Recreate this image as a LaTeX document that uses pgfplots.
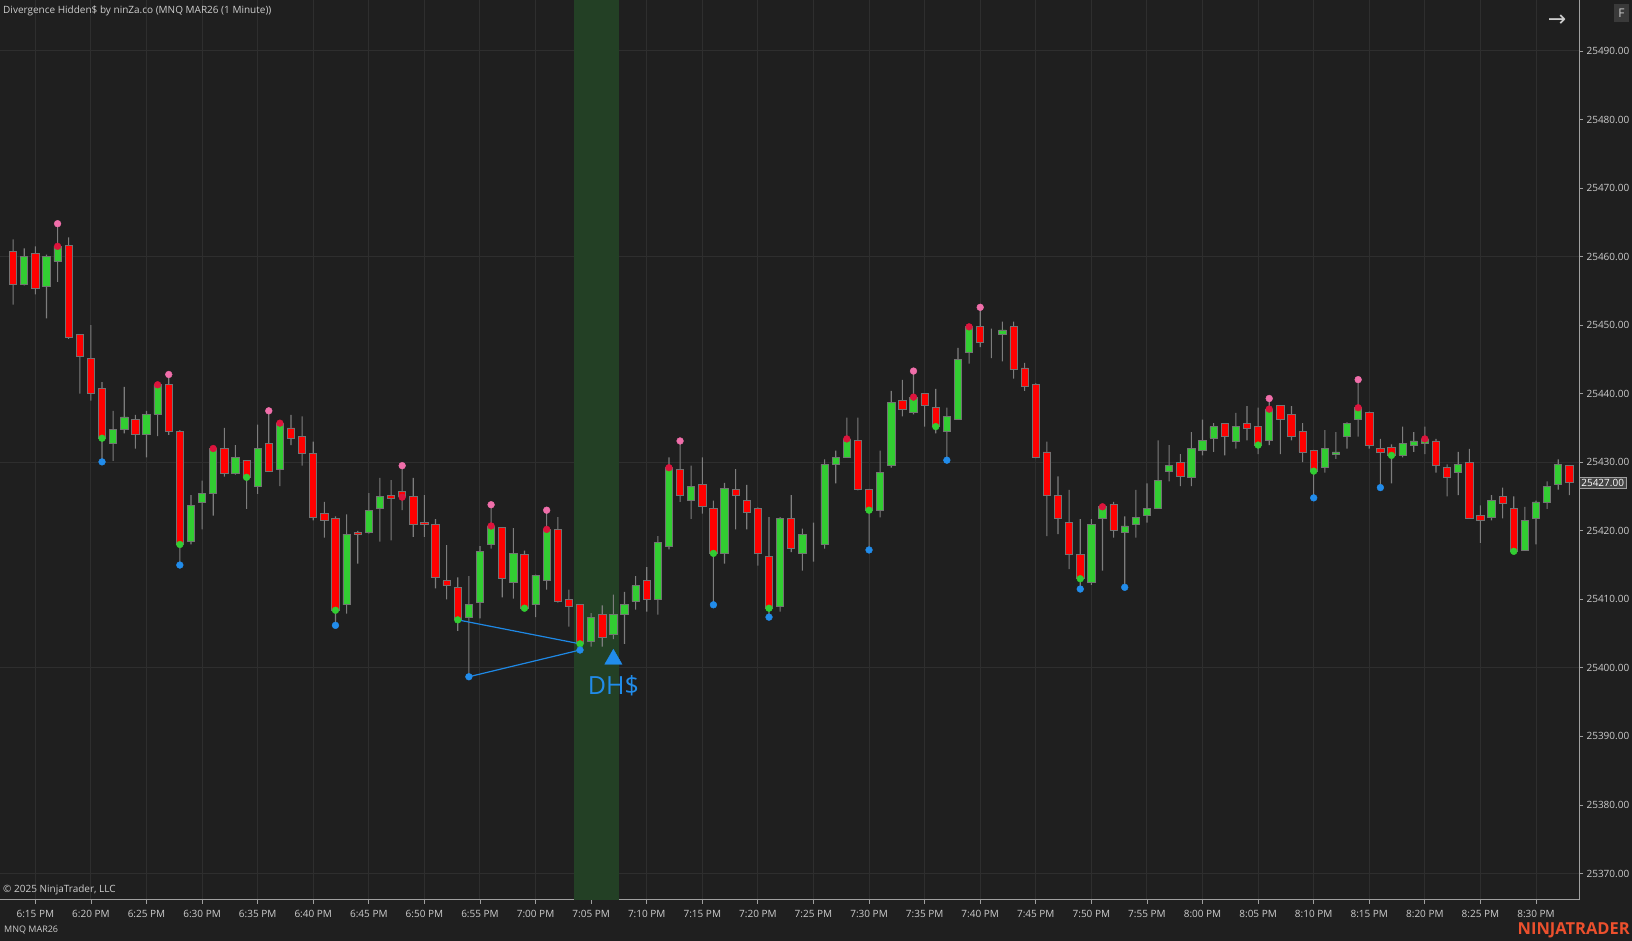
\documentclass[border=0pt]{standalone}
\usepackage{pgfplots}
\pgfplotsset{compat=1.18}
\usepackage{pgfplotstable}
\usepackage{fontspec}
\setmainfont{Open Sans}
\newfontfamily\symfont{DejaVu Sans}

\definecolor{bg}{RGB}{31,31,31}
\definecolor{gridc}{RGB}{46,46,46}
\definecolor{axisc}{RGB}{160,160,160}
\definecolor{txt}{RGB}{205,205,205}
\definecolor{upc}{RGB}{50,205,50}
\definecolor{dnc}{RGB}{255,0,0}
\definecolor{edge}{RGB}{115,115,115}
\definecolor{wick}{RGB}{125,125,125}
\definecolor{band}{RGB}{35,64,37}
\definecolor{pinkdot}{RGB}{240,110,170}
\definecolor{reddot}{RGB}{220,20,60}
\definecolor{greendot}{RGB}{50,205,50}
\definecolor{bluedot}{RGB}{33,140,235}
\definecolor{divline}{RGB}{30,136,229}
\definecolor{ntorange}{RGB}{236,80,45}

% 1 minute bars, t = minutes after 6:00 PM
\pgfplotstableread{
t o h l c
13 25460.8 25462.5 25453.0 25456.0
14 25456.0 25461.2 25455.8 25460.0
15 25460.5 25461.5 25454.5 25455.3
16 25455.6 25460.3 25451.0 25460.0
17 25459.3 25464.8 25456.3 25461.5
18 25461.6 25462.8 25448.0 25448.2
19 25448.6 25448.6 25440.0 25445.5
20 25445.1 25450.0 25439.0 25440.0
21 25440.8 25441.7 25430.0 25433.5
22 25432.8 25437.5 25430.2 25434.8
23 25434.8 25441.0 25434.2 25436.6
24 25436.3 25436.9 25432.0 25434.0
25 25434.0 25437.5 25430.7 25437.0
26 25437.0 25441.5 25433.8 25441.3
27 25441.3 25442.8 25434.0 25434.5
28 25434.5 25434.7 25415.0 25418.0
29 25418.4 25425.2 25418.0 25423.7
30 25424.2 25427.3 25420.2 25425.5
31 25425.5 25432.2 25422.2 25432.0
32 25432.0 25435.0 25427.9 25428.3
33 25428.3 25432.5 25428.2 25430.7
34 25430.3 25430.3 25423.2 25427.8
35 25426.5 25435.5 25425.4 25432.0
36 25432.8 25437.5 25428.6 25428.7
37 25429.0 25436.0 25426.5 25435.7
38 25435.0 25436.9 25432.5 25433.5
39 25433.8 25436.7 25429.5 25431.3
40 25431.3 25433.0 25421.5 25422.0
41 25422.5 25424.2 25419.0 25421.5
42 25421.8 25422.1 25406.2 25408.4
43 25409.2 25422.4 25407.9 25419.5
44 25419.75 25420.0 25415.2 25419.5
45 25419.7 25425.5 25419.6 25423.0
46 25423.2 25427.7 25418.4 25425.0
47 25425.2 25427.4 25418.6 25424.7
48 25425.7 25429.5 25423.0 25425.0
49 25425.0 25427.7 25419.1 25420.9
50 25421.2 25425.2 25419.1 25420.9
51 25420.9 25421.7 25411.6 25413.2
52 25412.7 25417.9 25410.0 25412.0
53 25411.7 25413.2 25405.4 25407.0
54 25407.4 25413.4 25398.7 25409.2
55 25409.5 25417.75 25407.2 25417.0
56 25418.0 25423.8 25417.4 25420.7
57 25420.5 25420.5 25410.3 25413.0
58 25412.4 25420.4 25410.1 25416.7
59 25416.5 25417.1 25408.5 25408.7
60 25409.2 25413.6 25407.4 25413.5
61 25412.7 25423.0 25411.4 25420.2
62 25420.2 25422.0 25409.5 25409.7
63 25410.0 25411.4 25406.0 25408.9
64 25409.2 25409.3 25402.6 25403.5
65 25403.9 25408.0 25403.1 25407.4
66 25407.75 25409.1 25403.1 25404.4
67 25404.9 25410.7 25404.2 25407.75
68 25407.75 25411.1 25403.5 25409.2
69 25409.7 25413.4 25408.5 25412.0
70 25412.7 25414.7 25408.2 25410.0
71 25410.0 25419.2 25407.75 25418.3
72 25417.75 25430.7 25417.3 25429.2
73 25429.0 25433.1 25424.2 25425.2
74 25424.4 25429.5 25421.75 25426.5
75 25426.7 25430.7 25422.5 25423.5
76 25423.3 25424.4 25409.2 25416.7
77 25416.7 25427.0 25415.2 25426.2
78 25426.0 25429.0 25420.2 25425.2
79 25424.4 25426.7 25420.2 25422.7
80 25423.3 25423.4 25414.9 25416.7
81 25416.2 25422.0 25407.4 25408.7
82 25408.9 25422.0 25408.2 25421.8
83 25421.8 25425.2 25416.9 25417.4
84 25416.7 25420.3 25414.2 25419.5
85 25418.7 25421.2 25415.5 25418.7
86 25418.0 25430.4 25417.4 25429.7
87 25429.7 25431.7 25426.9 25430.7
88 25430.7 25436.5 25430.7 25433.4
89 25433.2 25436.5 25425.9 25426.0
90 25426.0 25426.1 25417.2 25423.0
91 25423.0 25431.7 25421.95 25428.5
92 25429.5 25440.4 25429.2 25438.7
93 25439.0 25442.0 25436.7 25437.75
94 25437.3 25443.3 25437.0 25439.5
95 25440.0 25440.0 25435.2 25438.3
96 25438.0 25440.7 25434.2 25435.2
97 25434.5 25437.95 25430.3 25436.7
98 25436.2 25446.7 25436.2 25445.0
99 25446.05 25450.0 25444.4 25449.75
100 25449.75 25452.6 25446.8 25447.5
101 25448.0 25449.5 25445.2 25448.0
102 25448.7 25450.5 25444.7 25449.3
103 25449.75 25450.5 25442.2 25443.5
104 25443.75 25444.5 25440.4 25441.0
105 25441.3 25441.5 25430.6 25430.7
106 25431.5 25433.0 25419.2 25425.2
107 25425.2 25427.95 25419.5 25421.8
108 25421.2 25425.95 25414.4 25416.5
109 25416.5 25421.7 25411.5 25413.0
110 25412.4 25421.7 25412.1 25420.9
111 25421.8 25423.7 25414.2 25423.5
112 25423.9 25424.2 25419.0 25420.05
113 25419.75 25422.1 25411.75 25420.7
114 25420.9 25425.95 25419.0 25421.95
115 25422.2 25426.9 25421.2 25423.3
116 25423.3 25433.2 25423.2 25427.4
117 25428.7 25432.5 25427.2 25429.5
118 25430.0 25431.2 25426.5 25427.95
119 25427.8 25434.4 25426.5 25432.05
120 25431.7 25436.2 25431.0 25433.2
121 25433.5 25435.7 25431.5 25435.2
122 25435.6 25435.6 25431.0 25433.8
123 25433.0 25437.2 25432.0 25435.2
124 25435.6 25438.2 25433.2 25435.0
125 25435.2 25437.95 25431.2 25432.5
126 25433.2 25439.3 25432.5 25437.75
127 25438.3 25438.3 25431.2 25436.2
128 25437.0 25438.2 25433.2 25433.75
129 25434.5 25435.7 25430.0 25431.5
130 25431.75 25431.8 25424.8 25428.7
131 25429.2 25434.7 25428.5 25432.0
132 25431.2 25434.4 25430.5 25431.5
133 25433.75 25435.8 25432.0 25435.7
134 25436.2 25442.05 25433.75 25437.95
135 25437.3 25437.4 25432.0 25432.5
136 25432.0 25433.4 25426.3 25431.5
137 25432.2 25432.6 25426.9 25431.0
138 25431.0 25435.2 25430.7 25432.7
139 25432.5 25434.4 25431.5 25433.1
140 25432.7 25435.2 25431.2 25433.4
141 25433.1 25433.4 25428.5 25429.6
142 25429.3 25429.7 25425.0 25427.8
143 25428.5 25431.5 25425.2 25429.7
144 25430.0 25431.95 25421.8 25421.8
145 25422.25 25423.7 25418.25 25421.5
146 25421.95 25425.2 25421.5 25424.4
147 25425.0 25426.3 25421.8 25424.0
148 25423.3 25425.0 25416.9 25417.0
149 25417.2 25423.5 25417.1 25421.5
150 25421.8 25424.4 25418.0 25424.2
151 25424.2 25427.2 25423.2 25426.5
152 25426.7 25430.4 25426.0 25429.7
153 25429.5 25429.5 25425.2 25427.0
}\candles

\pgfplotsset{
  chartbox/.style={
    scale only axis, width=1579pt, height=900pt,
    xmin=11.82, xmax=153.87,
    at={(0pt,41pt)}, anchor=south west,
  },
  % bars are stacked on a base, so these axes count prices above 25360
  offsetaxis/.style={chartbox, hide axis, ymin=6.13, ymax=137.44, ybar stacked},
}

\begin{document}
\begin{tikzpicture}
\fill[bg] (0,0) rectangle (1632pt,941pt);

% frame, grid, ticks, highlight band
\begin{axis}[
  chartbox,
  ymin=25366.13, ymax=25497.44,
  clip mode=individual,
  axis x line*=bottom, axis y line*=right,
  axis line style={draw=axisc, line width=1pt},
  tick align=outside, major tick length=4pt,
  tick style={draw=axisc, line width=0.8pt},
  xtick={15,20,...,150},
  xticklabels={6:15 PM,6:20 PM,6:25 PM,6:30 PM,6:35 PM,6:40 PM,6:45 PM,6:50 PM,6:55 PM,7:00 PM,7:05 PM,7:10 PM,7:15 PM,7:20 PM,7:25 PM,7:30 PM,7:35 PM,7:40 PM,7:45 PM,7:50 PM,7:55 PM,8:00 PM,8:05 PM,8:10 PM,8:15 PM,8:20 PM,8:25 PM,8:30 PM},
  ytick={25370,25380,...,25490},
  yticklabels={25370.00,25380.00,25390.00,25400.00,25410.00,25420.00,25430.00,25440.00,25450.00,25460.00,25470.00,25480.00,25490.00},
  extra y ticks={25370,25400,25430,25460,25490},
  extra y tick labels={},
  extra y tick style={grid=major},
  xmajorgrids,
  major grid style={draw=gridc, line width=1pt},
  tick label style={font=\fontsize{10}{12}\selectfont, text=txt},
  xticklabel style={anchor=center, yshift=-10pt},
  yticklabel style={anchor=west},
]
\addplot[fill=band, draw=none] coordinates {(63.5,25360) (67.5,25360) (67.5,25500) (63.5,25500)} -- cycle;
\node[anchor=west, fill={rgb,255:red,68;green,68;blue,68}, draw=axisc, line width=0.6pt,
      text=white, font=\fontsize{10}{12}\selectfont, inner xsep=2pt, inner ysep=1.5pt]
  at ({rel axis cs:1,0}|-{axis cs:150,25427}) {25427.00};
\end{axis}

% wicks
\begin{axis}[offsetaxis, bar width=1.1pt]
\addplot[draw=none, fill=none] table[x=t, y expr={\thisrow{l}-25360}] {\candles};
\addplot[draw=none, fill=wick] table[x=t, y expr={\thisrow{h}-\thisrow{l}}] {\candles};
\end{axis}

% bodies
\begin{axis}[offsetaxis, bar width=7.3pt]
\addplot[draw=none, fill=none] table[x=t, y expr={min(\thisrow{o},\thisrow{c})-25360}] {\candles};
\addplot[fill=upc, draw=edge, line width=0.8pt] table[x=t, y expr={max(\thisrow{c}-\thisrow{o},0)}] {\candles};
\addplot[fill=dnc, draw=edge, line width=0.8pt] table[x=t, y expr={max(\thisrow{o}-\thisrow{c},0)}] {\candles};
\end{axis}

% swing markers and the hidden divergence signal
\begin{axis}[chartbox, hide axis, ymin=25366.13, ymax=25497.44, clip mode=individual]
\addplot[divline, line width=1.2pt] coordinates {(53,25407.0) (64,25403.5)};
\addplot[divline, line width=1.2pt] coordinates {(54,25398.7) (64,25402.6)};
\addplot[only marks, mark=*, mark size=3.4pt, color=pinkdot] coordinates {
  (17,25464.8) (27,25442.8) (36,25437.5) (48,25429.5) (56,25423.8) (61,25423.0)
  (73,25433.1) (94,25443.3) (100,25452.6) (126,25439.3) (134,25442.05)};
\addplot[only marks, mark=*, mark size=3.4pt, color=reddot] coordinates {
  (17,25461.5) (26,25441.3) (31,25432.0) (37,25435.7) (48,25424.9) (56,25420.7)
  (61,25420.2) (72,25429.2) (88,25433.4) (94,25439.5) (99,25449.75) (111,25423.5)
  (126,25437.75) (134,25437.95) (140,25433.4)};
\addplot[only marks, mark=*, mark size=3.4pt, color=greendot] coordinates {
  (21,25433.5) (28,25418.0) (34,25427.8) (42,25408.4) (53,25407.0) (59,25408.7)
  (64,25403.5) (76,25416.7) (81,25408.7) (90,25423.0) (96,25435.2) (109,25413.0)
  (125,25432.5) (130,25428.7) (137,25431.0) (148,25417.0)};
\addplot[only marks, mark=*, mark size=3.4pt, color=bluedot] coordinates {
  (21,25430.05) (28,25415.0) (42,25406.2) (54,25398.7) (64,25402.6) (76,25409.2)
  (81,25407.4) (90,25417.2) (97,25430.3) (109,25411.5) (113,25411.75) (130,25424.8)
  (136,25426.3)};
\addplot[only marks, mark=triangle*, mark size=10pt, color=bluedot] coordinates {(67,25401.25)};
\node[text=bluedot, font=\fontsize{25}{30}\selectfont] at (axis cs:67,25397.4) {DH\$};
\end{axis}

% chart window texts
\node[anchor=west, inner sep=0pt, text=txt, font=\fontsize{10}{12}\selectfont]
  at (3pt,930.5pt) {Divergence Hidden\$ by ninZa.co (MNQ MAR26 (1 Minute))};
\node[anchor=west, inner sep=0pt, text=txt, font=\fontsize{10}{12}\selectfont]
  at (3pt,51pt) {© 2025 NinjaTrader, LLC};
\node[anchor=west, inner sep=0pt, text=txt, font=\fontsize{9}{11}\selectfont]
  at (4pt,10.5pt) {MNQ MAR26};
\node[anchor=east, inner sep=0pt, text=ntorange, font=\bfseries\fontsize{16.5}{18}\selectfont]
  at (1630pt,10.5pt) {NINJATRADER};
\node[text=txt, font=\symfont\fontsize{22}{24}\selectfont, inner sep=0pt]
  at (1557pt,920pt) {→};
\node[fill={rgb,255:red,58;green,58;blue,58}, minimum width=15pt, minimum height=18pt,
      inner sep=0pt, text=txt, font=\fontsize{12}{14}\selectfont]
  at (1621.5pt,927.5pt) {F};

\pgfresetboundingbox
\path[use as bounding box] (0,0) rectangle (1632pt,941pt);
\end{tikzpicture}
\end{document}
